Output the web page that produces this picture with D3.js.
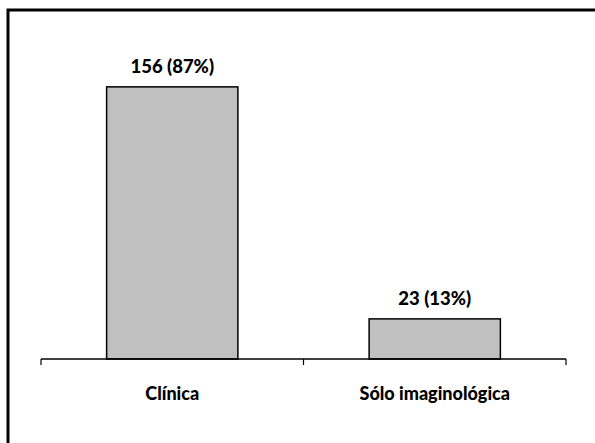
<!DOCTYPE html>
<html><head><meta charset="utf-8">
<script src="https://cdn.jsdelivr.net/npm/d3@7"></script>
<style>body{margin:0;background:#fff}svg{display:block}text{font-family:Lato,"Open Sans",sans-serif;font-weight:900;fill:#000}</style>
</head><body><svg id="c" width="595" height="443"></svg>
<script>
const categories = ["Clínica", "Sólo imaginológica"];
const values = [156, 23];
const labels = ["156 (87%)", "23 (13%)"];

const svg = d3.select("#c");
// frame (top and left edges visible)
svg.append("path").attr("d","M8,443V10H595").attr("fill","none").attr("stroke","#000").attr("stroke-width",3);

const x = d3.scaleBand().domain(categories).range([41, 566]).paddingInner(0.5).paddingOuter(0.25);
const y = d3.scaleLinear().domain([0, 180]).range([359, 45]);

svg.selectAll("rect.bar").data(values).join("rect").attr("class","bar")
  .attr("x",(d,i)=>x(categories[i])).attr("width",x.bandwidth())
  .attr("y",d=>y(d)).attr("height",d=>y(0)-y(d))
  .attr("fill","#c0c0c0").attr("stroke","#000").attr("stroke-width",1.5);

const ax = svg.append("g").attr("transform","translate(0,359)");
ax.append("line").attr("x1",41).attr("x2",566).attr("stroke","#000").attr("stroke-width",1.5);
const tickPos = [41, (41+566)/2, 566];
ax.selectAll("line.t").data(tickPos).join("line").attr("class","t")
  .attr("x1",d=>d).attr("x2",d=>d).attr("y1",0).attr("y2",6).attr("stroke","#000").attr("stroke-width",1.2);

svg.selectAll("text.cat").data(categories).join("text").attr("class","cat")
  .attr("x",d=>x(d)+x.bandwidth()/2).attr("y",400).attr("text-anchor","middle")
  .attr("font-size",18).text(d=>d);

svg.selectAll("text.val").data(values).join("text").attr("class","val")
  .attr("x",(d,i)=>x(categories[i])+x.bandwidth()/2).attr("y",d=>y(d)-14).attr("text-anchor","middle")
  .attr("font-size",18.5).text((d,i)=>labels[i]);
</script></body></html>
